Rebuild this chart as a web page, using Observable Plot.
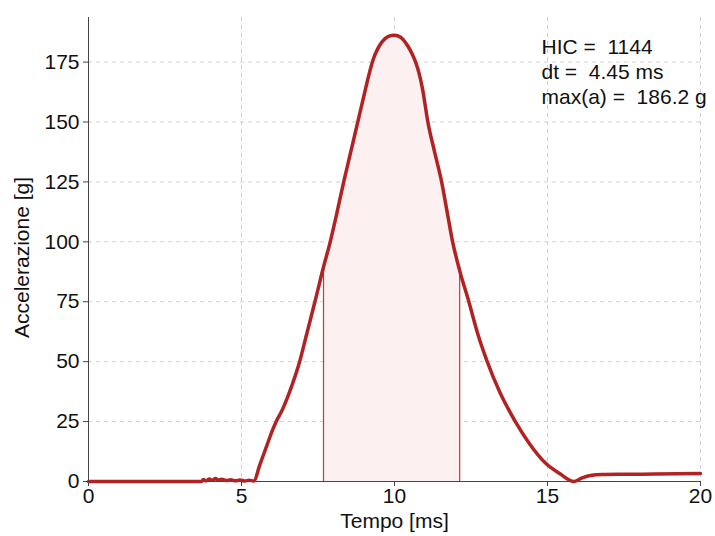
<!DOCTYPE html>
<html>
<head>
<meta charset="utf-8">
<script src="https://cdn.jsdelivr.net/npm/d3@7"></script>
<script src="https://cdn.jsdelivr.net/npm/@observablehq/plot@0.6"></script>
<style>
  html, body { margin: 0; padding: 0; background: #fff; }
  #chart text { white-space: pre; }
</style>
</head>
<body>
<div id="chart"></div>
<script>
// Time samples [ms]
const tempo = [0, 1, 2, 3, 3.7, 3.75, 3.85, 3.95, 4.05, 4.15, 4.25, 4.35, 4.5, 4.65, 4.8, 4.95, 5.1, 5.25, 5.4,
  5.6, 5.8, 6.0, 6.15, 6.3, 6.5, 6.7, 6.9, 7.1, 7.4, 7.68, 7.9, 8.1, 8.34, 8.57, 8.8, 9.02, 9.15, 9.3, 9.45, 9.6, 9.8, 10.0,
  10.2, 10.45, 10.57, 10.69, 10.8, 10.92, 11.09, 11.31, 11.54, 11.72, 11.9, 12.13, 12.43, 12.7, 13.03, 13.45, 13.95, 14.4, 14.95,
  15.4, 15.86, 16.1, 16.4, 16.8, 17.5, 18.5, 20];
// Acceleration [g]
const accel = [0, 0, 0, 0, 0, 0.8, 0.3, 1.0, 0.5, 1.2, 0.6, 0.9, 0.4, 0.7, 0.3, 0.6, 0.2, 0.5, 0.2,
  7, 14, 21, 25.5, 29, 35, 42, 50, 60, 75, 89.5, 100, 111, 125, 137.5, 150, 162, 169, 176, 180.5, 183.5, 185.7, 186.2,
  185.4, 181.4, 178.6, 175, 170.5, 163.5, 150, 137.5, 125, 112.5, 100, 88, 75, 62.5, 50, 37, 25, 16, 7.5,
  3.3, 0, 1.3, 2.5, 2.9, 3.0, 3.1, 3.3];

// HIC window and results
const hicStart = [7.68];
const hicEnd = [12.13];
const annotLabels = ["HIC = ", "dt = ", "max(a) = "];
const annotValues = ["1144", "4.45 ms", "186.2 g"];

const xTicks = [0, 5, 10, 15, 20];
const yTicks = [0, 25, 50, 75, 100, 125, 150, 175];

const data = tempo.map((t, i) => ({t, a: accel[i]}));
const t1 = hicStart[0], t2 = hicEnd[0];
const hicData = data.filter(d => d.t >= t1 && d.t <= t2);
const edges = data.filter(d => d.t === t1 || d.t === t2);
const annotText = annotLabels.map((l, i) => l + " " + annotValues[i]).join("\n");

const red = "#b22222";
const font = "'Liberation Sans', Arial, Helvetica, sans-serif";
const fs = 21;

const chart = Plot.plot({
  width: 715,
  height: 536,
  marginLeft: 88,
  marginRight: 15,
  marginTop: 17,
  marginBottom: 55,
  style: {fontFamily: font, fontSize: fs + "px", background: "#fff", color: "#111"},
  x: {domain: [0, 20], label: null},
  y: {domain: [0, 193.6], label: null},
  marks: [
    Plot.gridX(xTicks, {stroke: "#d0d0d0", strokeOpacity: 1, strokeDasharray: "4,4"}),
    Plot.gridY(yTicks, {stroke: "#d0d0d0", strokeOpacity: 1, strokeDasharray: "4,4"}),
    Plot.areaY(hicData, {x: "t", y: "a", fill: "#fdf0f0", curve: "monotone-x"}),
    Plot.ruleX(edges, {x: "t", y1: 0, y2: "a", stroke: "#cc3333", strokeWidth: 1.2}),
    Plot.ruleX([0], {stroke: "#444", strokeWidth: 1}),
    Plot.ruleY([0], {stroke: "#444", strokeWidth: 1}),
    Plot.line(data, {x: "t", y: "a", stroke: red, strokeWidth: 3.5, curve: "monotone-x"}),
    Plot.axisX(xTicks, {tickSize: 5, tickPadding: 2, stroke: "#444", fontSize: fs, label: null}),
    Plot.axisY(yTicks, {tickSize: 5, tickPadding: 4, stroke: "#444", fontSize: fs, label: null}),
    Plot.text(["Tempo [ms]"], {frameAnchor: "bottom", dy: 46, fontSize: fs}),
    Plot.text(["Accelerazione [g]"], {frameAnchor: "left", dx: -66, dy: 8, rotate: -90, textAnchor: "middle", fontSize: fs}),
    Plot.text([annotText], {frameAnchor: "top-right", dx: -(715 - 88 - 15) + (541 - 88), textAnchor: "start", lineAnchor: "top", dy: 19, fontSize: fs, lineHeight: 1.19})
  ]
});
document.getElementById("chart").appendChild(chart);
</script>
</body>
</html>
